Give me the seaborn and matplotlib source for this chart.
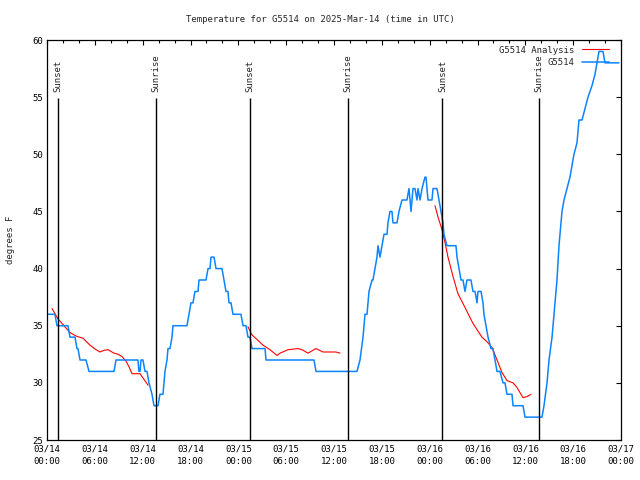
import pandas as pd
import matplotlib
matplotlib.use("Agg")
import matplotlib.pyplot as plt
import matplotlib.dates as mdates
import seaborn as sns

# hours after 2025-03-14 00:00 UTC, temperature in degrees F
obs_hours = [0.0, 1.0, 1.25, 2.63, 2.88, 3.51, 3.76, 3.89, 4.14, 4.89, 5.27, 8.40,
             8.66, 11.41, 11.54, 11.67, 11.79, 12.04, 12.29, 12.54, 12.79, 13.17,
             13.42, 13.92, 14.17, 14.55, 14.68, 14.80, 15.05, 15.18, 15.43, 15.68,
             15.80, 17.56, 17.81, 18.06, 18.31, 18.56, 18.94, 19.07, 19.94, 20.20,
             20.45, 20.57, 20.95, 21.20, 21.95, 22.20, 22.45, 22.70, 22.83, 23.08,
             23.33, 24.33, 24.59, 24.96, 25.21, 25.46, 25.71, 27.35, 27.47, 33.49,
             33.74, 38.88, 39.26, 39.64, 39.89, 40.14, 40.39, 40.77, 40.89, 41.14,
             41.39, 41.52, 41.77, 42.02, 42.27, 42.65, 42.77, 43.02, 43.27, 43.40,
             43.90, 44.15, 44.53, 45.15, 45.41, 45.66, 45.91, 46.16, 46.41, 46.54,
             46.79, 47.04, 47.41, 47.54, 47.67, 47.79, 48.29, 48.42, 48.92, 49.17,
             49.42, 49.67, 49.79, 50.17, 51.30, 51.43, 51.68, 51.93, 52.18, 52.43,
             52.68, 53.18, 53.43, 53.69, 53.94, 54.06, 54.44, 54.69, 54.81, 55.07,
             55.32, 55.69, 55.94, 56.19, 56.45, 56.82, 57.20, 57.45, 57.70, 58.33,
             58.45, 59.71, 59.96, 62.09, 62.34, 62.72, 62.97, 63.35, 63.47, 63.72,
             63.97, 64.22, 64.60, 64.85, 65.22, 65.60, 65.85, 66.10, 66.48, 66.73,
             67.11, 67.48, 67.86, 68.36, 68.74, 68.99, 69.24, 69.74, 69.99, 71.75]
obs_temps = [36, 36, 35, 35, 34, 34, 33, 33, 32, 32, 31, 31,
             32, 32, 31, 31, 32, 32, 31, 31, 30, 29,
             28, 28, 29, 29, 30, 31, 32, 33, 33, 34,
             35, 35, 36, 37, 37, 38, 38, 39, 39, 40,
             40, 41, 41, 40, 40, 39, 38, 38, 37, 37,
             36, 36, 35, 35, 34, 34, 33, 33, 32, 32,
             31, 31, 32, 34, 36, 36, 38, 39, 39, 40,
             41, 42, 41, 42, 43, 43, 44, 45, 45, 44,
             44, 45, 46, 46, 47, 45, 47, 47, 46, 47,
             46, 47, 48, 48, 47, 46, 46, 47, 47, 46,
             45, 44, 43, 42, 42, 41, 40, 39, 39, 38,
             39, 39, 38, 38, 37, 38, 38, 37, 36, 35,
             34, 33, 33, 32, 31, 31, 30, 30, 29, 29,
             28, 28, 27, 27, 28, 30, 32, 34, 35, 37,
             39, 42, 45, 46, 47, 48, 49, 50, 51, 53,
             53, 54, 55, 56, 57, 58, 59, 59, 58, 58]

# analysis runs (three separate pieces)
ana1_hours = [0.63, 1.38, 2.13, 2.88, 3.64, 4.52, 5.39, 6.15, 6.65, 7.15, 7.65,
              8.40, 8.91, 9.41, 9.91, 10.29, 10.66, 11.67, 12.17, 12.67]
ana1_temps = [36.5, 35.6, 35.0, 34.4, 34.1, 33.9, 33.3, 32.9, 32.7, 32.85, 32.9,
              32.6, 32.5, 32.3, 31.9, 31.4, 30.8, 30.8, 30.3, 29.8]
ana2_hours = [25.21, 25.71, 26.34, 27.09, 27.97, 28.85, 29.23, 30.23, 31.48,
              31.99, 32.74, 33.74, 34.62, 36.25, 36.75]
ana2_temps = [34.9, 34.2, 33.8, 33.3, 32.9, 32.4, 32.6, 32.9, 33.0,
              32.9, 32.6, 33.0, 32.7, 32.7, 32.6]
ana3_hours = [48.67, 49.05, 49.55, 49.92, 50.30, 50.93, 51.55, 52.43, 53.43,
              54.56, 55.19, 55.82, 56.45, 57.07, 57.70, 58.45, 58.95, 59.71,
              60.21, 60.71]
ana3_temps = [45.5, 44.5, 43.4, 42.3, 41.0, 39.3, 37.8, 36.6, 35.2,
              34.0, 33.6, 33.1, 32.0, 30.9, 30.2, 30.0, 29.6, 28.7,
              28.8, 29.0]

sun_hours = [1.42, 13.7, 25.5, 37.7, 49.6, 61.75]
sun_labels = ["Sunset", "Sunrise", "Sunset", "Sunrise", "Sunset", "Sunrise"]

start = pd.Timestamp("2025-03-14 00:00")


def to_time(hours):
    return start + pd.to_timedelta(hours, unit="h")


sns.set_style("white")
plt.rcParams["font.family"] = ["DejaVu Sans Mono"]
plt.rcParams["font.size"] = 6.5

fig = plt.figure(figsize=(6.4, 4.8), dpi=100)
ax = fig.add_axes([47 / 640, 40 / 480, 574 / 640, 400 / 480])

blue = "#0a84ff"
red = "#ff0000"

for i, (h, t) in enumerate([(ana1_hours, ana1_temps), (ana2_hours, ana2_temps),
                            (ana3_hours, ana3_temps)]):
    sns.lineplot(x=to_time(h), y=t, ax=ax, color=red, lw=0.8, sort=False,
                 estimator=None, label="G5514 Analysis" if i == 0 else None)
sns.lineplot(x=to_time(obs_hours), y=obs_temps, ax=ax, color=blue, lw=1.1,
             sort=False, estimator=None, label="G5514")

# sunrise / sunset markers
sun_times = to_time(sun_hours)
ax.vlines(sun_times, 25, 54.9, color="black", lw=1.0)
for t, lab in zip(sun_times, sun_labels):
    ax.text(t, 55.45, lab, rotation=90, ha="center", va="bottom", fontsize=6.5)

ax.set_xlim(start, start + pd.Timedelta(hours=72))
ax.set_ylim(25, 60)
ax.set_yticks(range(25, 61, 5))
ax.xaxis.set_major_locator(mdates.HourLocator(byhour=[0, 6, 12, 18]))
ax.xaxis.set_minor_locator(mdates.HourLocator(interval=2))
ax.xaxis.set_major_formatter(mdates.DateFormatter("%m/%d\n%H:%M"))

ax.tick_params(which="both", direction="in", top=True, right=True,
               labelsize=6.5, width=0.8, colors="black")
ax.tick_params(which="major", length=3.6, pad=3)
ax.tick_params(which="minor", length=1.8)
for lbl in ax.get_xticklabels():
    lbl.set_linespacing(1.6)
for s in ax.spines.values():
    s.set_color("black")
    s.set_linewidth(0.9)

# gnuplot centres the title on the whole canvas
fig.text(0.5, 1 - 19 / 480, "Temperature for G5514 on 2025-Mar-14 (time in UTC)",
         ha="center", va="center", fontsize=6.5)
ax.set_ylabel("degrees F", fontsize=6.5, labelpad=12)
ax.set_xlabel("")

ax.legend(loc="upper right", bbox_to_anchor=(0.979, 0.986), frameon=False,
          markerfirst=False, fontsize=6.5, borderpad=0, borderaxespad=0,
          handlelength=3, handletextpad=0.8, labelspacing=0.35)

fig.savefig("out.png", dpi=100)
